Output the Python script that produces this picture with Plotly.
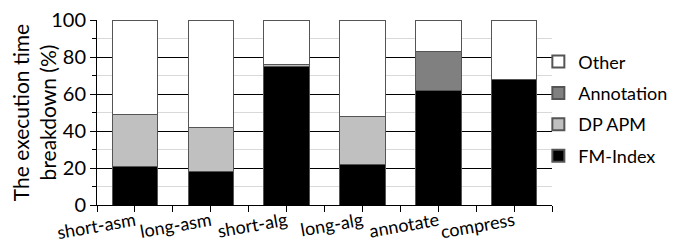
import plotly.graph_objects as go

categories = ["short-asm", "long-asm", "short-alg", "long-alg", "annotate", "compress"]
fm_index = [21, 18, 75, 22, 62, 68]
dp_apm = [28, 24, 1, 26, 0, 0]
annotation = [0, 0, 0, 0, 21, 0]
other = [100 - a - b - c for a, b, c in zip(fm_index, dp_apm, annotation)]

series = [
    ("FM-Index", fm_index, "#000000"),
    ("DP APM", dp_apm, "#c0c0c0"),
    ("Annotation", annotation, "#808080"),
    ("Other", other, "#ffffff"),
]

xpos = list(range(len(categories)))
fig = go.Figure()
for rank, (name, vals, col) in enumerate(series):
    fig.add_trace(go.Bar(
        x=xpos, y=vals, name=name, width=0.6, legendgroup=name,
        legendrank=len(series) - rank,
        marker=dict(color=col, line=dict(color="#555555", width=1)),
    ))

font = "Lato, 'Open Sans', sans-serif"
fig.update_layout(
    width=670, height=234,
    barmode="stack",
    plot_bgcolor="white", paper_bgcolor="white",
    margin=dict(l=89, r=126, t=12, b=37, autoexpand=False),
    font=dict(family=font, size=17, color="#000"),
    legend=dict(traceorder="grouped", x=0.97, xanchor="left", y=0.52, yanchor="middle",
                bgcolor="rgba(0,0,0,0)",
                font=dict(size=18), itemsizing="constant", tracegroupgap=5, itemwidth=30),
    xaxis=dict(
        range=[-0.5, 5.5], tickvals=xpos, ticktext=categories,
        tickangle=-10, ticks="outside", ticklen=6, tickcolor="#000",
        showline=True, linecolor="#000", linewidth=1, showgrid=False,
        minor=dict(tickvals=[i + 0.5 for i in range(-1, 6)], ticks="outside", ticklen=6, tickcolor="#000"),
        tickfont=dict(size=18), automargin=False, ticklabeloverflow="allow",
        ticklabelstandoff=-8,
    ),
    yaxis=dict(
        range=[0, 100], dtick=20, ticks="outside", ticklen=6, tickcolor="#000",
        showline=True, linecolor="#000", linewidth=1,
        showgrid=True, gridcolor="#000", gridwidth=1,
        minor=dict(dtick=10, ticks="outside", ticklen=4, tickcolor="#000",
                   showgrid=True, gridcolor="#d9d9d9", gridwidth=1),
        title=dict(text="The execution time<br>breakdown (%)", font=dict(size=21), standoff=4),
        tickfont=dict(size=20), ticklabeloverflow="allow",
        zeroline=False, automargin=False,
    ),
)
fig.write_html("out.html")
